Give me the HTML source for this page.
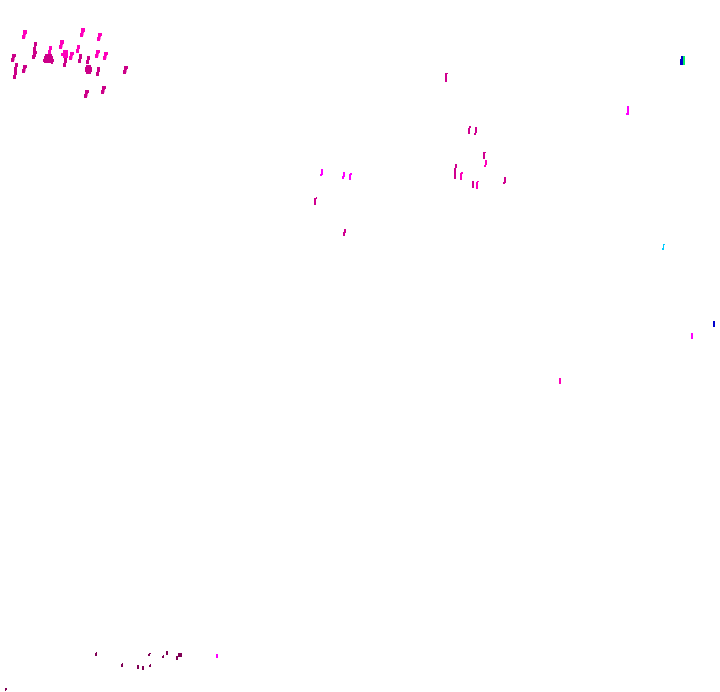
<!DOCTYPE html>
<html>
<head>
<meta charset="utf-8">
<style>
html,body{margin:0;padding:0;background:#fff;width:720px;height:692px;overflow:hidden}
svg{display:block}
</style>
</head>
<body>
<svg width="720" height="692" viewBox="0 0 720 692" xmlns="http://www.w3.org/2000/svg" shape-rendering="crispEdges">
<rect width="720" height="692" fill="#fff"/>
<!-- top-left cluster: bright pink -->
<g fill="#ff00bb">
<path d="M23 30h4v4h-1l-1 5h-3v-4h1z"/>
<path d="M81 28h4v4h-1l-1 5h-3v-4h1z"/>
<path d="M98 33h4v3h-1l-1 5h-3v-4h1z"/>
<path d="M60 40h4v4h-1l-1 5h-3v-4h1z"/>
<path d="M77 45h3v4h-1v4h-3v-4h1z"/>
<path d="M49 46h3v4h-1v4h-3v-4h1z"/>
<path d="M70 52h4v3h-1l-1 5h-3v-4h1z"/>
<path d="M96 50h4v3h-1l-1 5h-3v-4h1z"/>
<path d="M104 52h4v3h-1l-1 5h-3v-4h1z"/>
<rect x="63" y="50" width="5" height="8"/>
<rect x="61" y="53" width="7" height="3"/>
</g>
<!-- top-left cluster: dark pink -->
<g fill="#cc0088">
<path d="M34 42h3v4h-1v5h-3v-4h1z"/>
<path d="M33 51h4v3h-1v3h-1v2h-3v-4h1z"/>
<path d="M12 54h4v3h-1l-1 5h-3v-4h1z"/>
<path d="M15 63h3v4h-1v4h-3v-4h1z"/>
<path d="M14 71h3v4h-1v4h-3v-4h1z"/>
<path d="M23 65h4v3h-1l-1 5h-3v-4h1z"/>
<rect x="45" y="54" width="7" height="9"/>
<rect x="44" y="56" width="9" height="7"/>
<rect x="43" y="59" width="11" height="3"/>
<rect x="51" y="62" width="2" height="2"/>
<path d="M64 58h3v5h-1v4h-3v-4h1z"/>
<path d="M79 54h3v5h-1v4h-3v-4h1z"/>
<path d="M87 56h3v4h-1v4h-3v-4h1z"/>
<rect x="86" y="65" width="5" height="9"/>
<rect x="85" y="67" width="7" height="5"/>
<path d="M97 67h3v5h-1v4h-3v-4h1z"/>
<path d="M124 66h4v3h-1l-1 5h-3v-4h1z"/>
<path d="M85 90h4v3h-1l-1 5h-3v-4h1z"/>
<path d="M102 86h4v3h-1l-1 5h-3v-4h1z"/>
</g>
<!-- centre ticks -->
<g fill="#d0008f">
<rect x="445" y="73" width="2" height="9"/><rect x="447" y="73" width="1" height="1"/>
<rect x="468" y="128" width="2" height="6"/><rect x="469" y="126" width="2" height="2"/>
<rect x="475" y="127" width="2" height="6"/><rect x="474" y="133" width="2" height="2"/>
<rect x="483" y="152" width="2" height="7"/><rect x="485" y="152" width="1" height="1"/>
<rect x="454" y="168" width="2" height="11"/><rect x="455" y="164" width="2" height="4"/>
<rect x="472" y="181" width="2" height="7"/>
<rect x="504" y="177" width="2" height="6"/><rect x="503" y="182" width="2" height="2"/>
<rect x="314" y="198" width="2" height="7"/><rect x="316" y="197" width="1" height="2"/>
<rect x="344" y="229" width="2" height="4"/><rect x="343" y="232" width="2" height="4"/>
</g>
<g fill="#ff00bb">
<rect x="485" y="160" width="2" height="5"/><rect x="484" y="165" width="2" height="2"/>
<rect x="460" y="173" width="2" height="7"/><rect x="461" y="172" width="2" height="2"/>
<rect x="476" y="182" width="2" height="7"/><rect x="477" y="181" width="2" height="1"/>
<rect x="559" y="378" width="2" height="6"/>
</g>
<g fill="#ff00ff">
<rect x="321" y="169" width="2" height="6"/><rect x="320" y="174" width="2" height="2"/>
<rect x="343" y="172" width="2" height="5"/><rect x="342" y="176" width="2" height="3"/>
<rect x="349" y="174" width="2" height="6"/><rect x="350" y="173" width="2" height="2"/>
<rect x="627" y="106" width="2" height="8"/><rect x="626" y="113" width="3" height="2"/>
<rect x="691" y="333" width="2" height="6"/>
<rect x="216" y="654" width="2" height="4"/>
</g>
<!-- right side colours -->
<rect x="681" y="56" width="2" height="9" fill="#0000cc"/>
<rect x="680" y="59" width="1" height="6" fill="#0000cc"/>
<rect x="683" y="56" width="2" height="9" fill="#00ee66"/>
<rect x="663" y="244" width="1" height="6" fill="#00ccff"/>
<rect x="664" y="244" width="1" height="1" fill="#00ccff"/>
<rect x="662" y="248" width="2" height="2" fill="#00ccff"/>
<rect x="713" y="321" width="2" height="6" fill="#0000cc"/>
<!-- bottom dark marks -->
<g fill="#800055">
<rect x="95" y="653" width="2" height="3"/><rect x="96" y="652" width="1" height="1"/>
<rect x="121" y="664" width="2" height="3"/><rect x="122" y="663" width="1" height="1"/>
<rect x="137" y="665" width="2" height="4"/>
<rect x="142" y="666" width="2" height="4"/>
<rect x="149" y="665" width="2" height="2"/><rect x="150" y="664" width="1" height="1"/>
<rect x="149" y="653" width="2" height="1"/><rect x="148" y="654" width="2" height="2"/>
<rect x="162" y="656" width="2" height="2"/><rect x="163" y="655" width="1" height="1"/>
<rect x="166" y="651" width="2" height="4"/>
<rect x="176" y="656" width="2" height="4"/>
<rect x="178" y="653" width="4" height="4"/>
<rect x="5" y="688" width="2" height="2"/><rect x="5" y="690" width="1" height="1"/>
</g>
</svg>
</body>
</html>
